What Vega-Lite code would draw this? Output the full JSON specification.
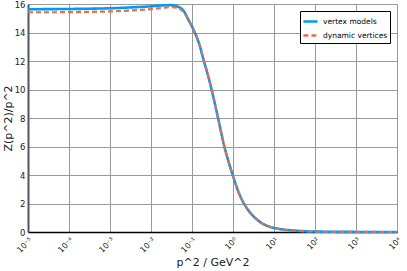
{
  "$schema": "https://vega.github.io/schema/vega-lite/v6.json",
  "width": 369,
  "height": 228,
  "autosize": {"type": "none"},
  "padding": {"left": 28, "top": 4, "right": 10, "bottom": 39},
  "config": {
    "font": "DejaVu Sans",
    "axis": {"labelColor": "#222", "titleColor": "#222", "titleFontWeight": "normal"}
  },
  "data": {
    "values": [
      {"p2": 0.00001, "z": 15.63, "series": "vertex models"},
      {"p2": 0.00003162, "z": 15.64, "series": "vertex models"},
      {"p2": 0.0001, "z": 15.65, "series": "vertex models"},
      {"p2": 0.0003162, "z": 15.67, "series": "vertex models"},
      {"p2": 0.001, "z": 15.70, "series": "vertex models"},
      {"p2": 0.003162, "z": 15.76, "series": "vertex models"},
      {"p2": 0.01, "z": 15.84, "series": "vertex models"},
      {"p2": 0.01778, "z": 15.9, "series": "vertex models"},
      {"p2": 0.03162, "z": 15.92, "series": "vertex models"},
      {"p2": 0.04467, "z": 15.82, "series": "vertex models"},
      {"p2": 0.0631, "z": 15.5, "series": "vertex models"},
      {"p2": 0.0832, "z": 14.85, "series": "vertex models"},
      {"p2": 0.1047, "z": 14.3, "series": "vertex models"},
      {"p2": 0.1479, "z": 13.24, "series": "vertex models"},
      {"p2": 0.195, "z": 12.0, "series": "vertex models"},
      {"p2": 0.257, "z": 10.78, "series": "vertex models"},
      {"p2": 0.339, "z": 9.35, "series": "vertex models"},
      {"p2": 0.447, "z": 7.8, "series": "vertex models"},
      {"p2": 0.603, "z": 6.1, "series": "vertex models"},
      {"p2": 0.794, "z": 4.85, "series": "vertex models"},
      {"p2": 1.0, "z": 3.93, "series": "vertex models"},
      {"p2": 1.259, "z": 3.06, "series": "vertex models"},
      {"p2": 1.66, "z": 2.25, "series": "vertex models"},
      {"p2": 2.239, "z": 1.62, "series": "vertex models"},
      {"p2": 3.236, "z": 1.07, "series": "vertex models"},
      {"p2": 4.677, "z": 0.68, "series": "vertex models"},
      {"p2": 6.761, "z": 0.44, "series": "vertex models"},
      {"p2": 12.02, "z": 0.24, "series": "vertex models"},
      {"p2": 31.62, "z": 0.1, "series": "vertex models"},
      {"p2": 100, "z": 0.03, "series": "vertex models"},
      {"p2": 1000, "z": 0.005, "series": "vertex models"},
      {"p2": 10000, "z": 0.0005, "series": "vertex models"},
      {"p2": 0.00001, "z": 15.42, "series": "dynamic vertices"},
      {"p2": 0.00003162, "z": 15.42, "series": "dynamic vertices"},
      {"p2": 0.0001, "z": 15.43, "series": "dynamic vertices"},
      {"p2": 0.0003162, "z": 15.45, "series": "dynamic vertices"},
      {"p2": 0.001, "z": 15.48, "series": "dynamic vertices"},
      {"p2": 0.003162, "z": 15.54, "series": "dynamic vertices"},
      {"p2": 0.01, "z": 15.64, "series": "dynamic vertices"},
      {"p2": 0.01778, "z": 15.72, "series": "dynamic vertices"},
      {"p2": 0.03162, "z": 15.78, "series": "dynamic vertices"},
      {"p2": 0.04467, "z": 15.72, "series": "dynamic vertices"},
      {"p2": 0.0631, "z": 15.42, "series": "dynamic vertices"},
      {"p2": 0.0832, "z": 14.85, "series": "dynamic vertices"},
      {"p2": 0.1047, "z": 14.3, "series": "dynamic vertices"},
      {"p2": 0.1479, "z": 13.24, "series": "dynamic vertices"},
      {"p2": 0.195, "z": 12.0, "series": "dynamic vertices"},
      {"p2": 0.257, "z": 10.78, "series": "dynamic vertices"},
      {"p2": 0.339, "z": 9.35, "series": "dynamic vertices"},
      {"p2": 0.447, "z": 7.8, "series": "dynamic vertices"},
      {"p2": 0.603, "z": 6.1, "series": "dynamic vertices"},
      {"p2": 0.794, "z": 4.85, "series": "dynamic vertices"},
      {"p2": 1.0, "z": 3.93, "series": "dynamic vertices"},
      {"p2": 1.259, "z": 3.06, "series": "dynamic vertices"},
      {"p2": 1.66, "z": 2.25, "series": "dynamic vertices"},
      {"p2": 2.239, "z": 1.62, "series": "dynamic vertices"},
      {"p2": 3.236, "z": 1.07, "series": "dynamic vertices"},
      {"p2": 4.677, "z": 0.68, "series": "dynamic vertices"},
      {"p2": 6.761, "z": 0.44, "series": "dynamic vertices"},
      {"p2": 12.02, "z": 0.24, "series": "dynamic vertices"},
      {"p2": 31.62, "z": 0.1, "series": "dynamic vertices"},
      {"p2": 100, "z": 0.03, "series": "dynamic vertices"},
      {"p2": 1000, "z": 0.005, "series": "dynamic vertices"},
      {"p2": 10000, "z": 0.0005, "series": "dynamic vertices"}
    ]
  },
  "encoding": {
    "x": {
      "field": "p2", "type": "quantitative",
      "scale": {"type": "log", "domain": [0.00001, 10000], "nice": false},
      "axis": {
        "grid": true, "gridColor": "#999999", "gridOpacity": 1, "gridWidth": 1,
        "ticks": false,
        "title": "p^2 / GeV^2", "titleFontSize": 11, "titlePadding": 2,
        "values": [0.00001, 0.0001, 0.001, 0.01, 0.1, 1, 10, 100, 1000, 10000],
        "labelExpr": "'10' + replace(replace(replace(replace(replace(replace(replace('' + round(log(datum.value) / LN10), '-', '⁻'), '0', '⁰'), '1', '¹'), '2', '²'), '3', '³'), '4', '⁴'), '5', '⁵')",
        "labelAngle": -45, "labelAlign": "right", "labelBaseline": "top", "labelFontSize": 8, "labelPadding": 4,
        "labelOverlap": false, "labelFlush": false,
        "domainColor": "#000000", "domainWidth": 1.5
      }
    },
    "y": {
      "field": "z", "type": "quantitative",
      "scale": {"domain": [0, 16], "nice": false},
      "axis": {
        "grid": true, "gridColor": "#999999", "gridOpacity": 1, "gridWidth": 1,
        "ticks": false,
        "title": "Z(p^2)/p^2", "titleFontSize": 11, "titlePadding": 1,
        "values": [0, 2, 4, 6, 8, 10, 12, 14, 16],
        "labelFontSize": 8.5, "labelPadding": 3, "labelOverlap": false,
        "domainColor": "#555555", "domainWidth": 2
      }
    },
    "color": {
      "field": "series", "type": "nominal",
      "scale": {"domain": ["vertex models", "dynamic vertices"], "range": ["#009AFA", "#E36F47"]},
      "legend": {
        "title": null, "orient": "top-right", "offset": 7,
        "strokeColor": "#000000", "fillColor": "#ffffff", "padding": 2,
        "symbolType": "stroke", "symbolStrokeWidth": 2.5, "symbolSize": 200,
        "labelFontSize": 7.5, "rowPadding": 0, "labelOffset": 4
      }
    },
    "strokeDash": {
      "field": "series", "type": "nominal",
      "scale": {"domain": ["vertex models", "dynamic vertices"], "range": [[1, 0], [5, 3]]},
      "legend": null
    }
  },
  "layer": [
    {
      "transform": [{"filter": "datum.series == 'vertex models'"}],
      "mark": {"type": "line", "strokeWidth": 2.6, "interpolate": "monotone"}
    },
    {
      "transform": [{"filter": "datum.series == 'dynamic vertices'"}],
      "mark": {"type": "line", "strokeWidth": 2.2, "interpolate": "monotone"}
    }
  ]
}
